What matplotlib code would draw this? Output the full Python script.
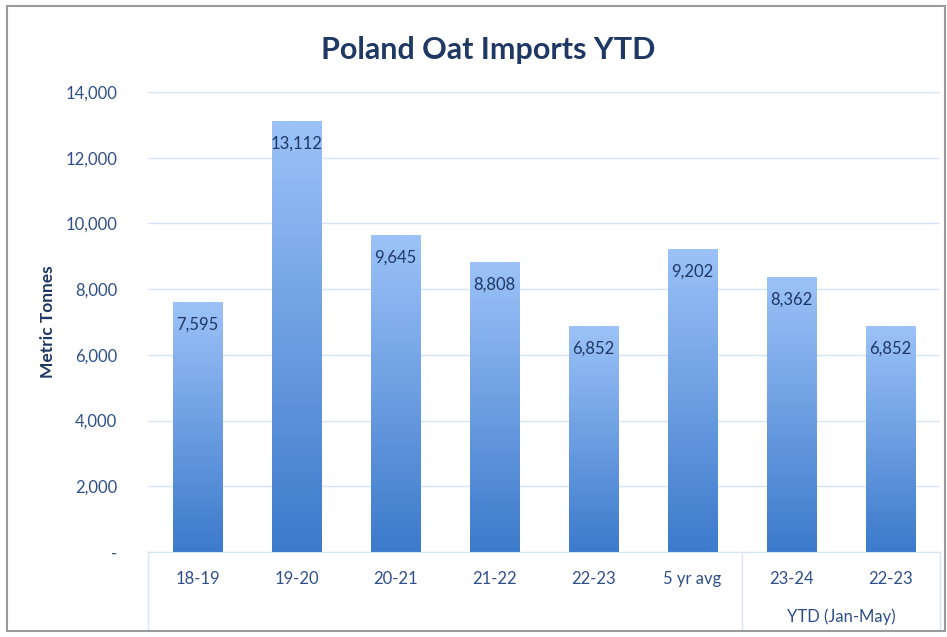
import matplotlib.pyplot as plt
import numpy as np
from matplotlib.colors import LinearSegmentedColormap
from matplotlib.patches import Rectangle
from matplotlib.lines import Line2D

categories = ["18-19", "19-20", "20-21", "21-22", "22-23", "5 yr avg", "23-24", "22-23"]
imports = [7595, 13112, 9645, 8808, 6852, 9202, 8362, 6852]
group_label = "YTD (Jan-May)"
y_ticks = [0, 2000, 4000, 6000, 8000, 10000, 12000, 14000]

plt.rcParams['font.family'] = ['Lato', 'DejaVu Sans']

dark = "#1F3864"
tick_col = "#2F4F8A"
grad = LinearSegmentedColormap.from_list("bargrad", ["#3C7ACB", "#9CC2F8"])

fig = plt.figure(figsize=(9.47, 6.37), dpi=100)
ax = fig.add_axes([148/947, 1-552/637, (940-148)/947, (552-92)/637])

# outer chart frame
fig.patches.append(Rectangle((7/947, 6/637), 938/947, 625/637, transform=fig.transFigure,
                             fill=False, edgecolor="#9A9A9A", linewidth=1.5))

x = np.arange(len(categories))
w = 0.5
g = np.linspace(0, 1, 256).reshape(-1, 1)
for xi, v in zip(x, imports):
    ax.imshow(g, extent=[xi - w/2, xi + w/2, 0, v], origin="lower", aspect="auto",
              cmap=grad, vmin=0, vmax=1, zorder=2)
    ax.annotate(f"{v:,}", (xi, v), xytext=(0, -16), textcoords="offset points",
                ha="center", va="center", fontsize=12, color=dark, zorder=3)

ax.set_xlim(-0.5, len(categories) - 0.5)
ax.set_ylim(0, 14000)
ax.set_yticks(y_ticks)
ax.set_yticklabels(["-" if t == 0 else f"{t:,}" for t in y_ticks])
ax.yaxis.grid(True, color="#D6E4F7", linewidth=1)
ax.set_axisbelow(True)
for s in ["top", "right", "left"]:
    ax.spines[s].set_visible(False)
ax.spines["bottom"].set_color("#D6E4F7")
ax.tick_params(axis="y", length=0, pad=22, labelsize=12, labelcolor=tick_col)
ax.set_xticks(x)
ax.set_xticklabels(categories)
ax.tick_params(axis="x", length=0, pad=14, labelsize=12, labelcolor=tick_col)

# second level category labels and dividers
for xd in [-0.5, 5.5, 7.5]:
    ax.add_line(Line2D([xd, xd], [0, -0.17], transform=ax.get_xaxis_transform(),
                       color="#D6E4F7", linewidth=1, clip_on=False))
ax.text(6.5, -0.14, group_label, transform=ax.get_xaxis_transform(),
        ha="center", va="center", fontsize=12, color=tick_col)

ax.set_ylabel("Metric Tonnes", fontsize=12.5, fontweight="bold", color=dark, labelpad=7)
fig.text(488/947, 1-50/637, "Poland Oat Imports YTD", ha="center", va="center",
         fontsize=22, fontweight="bold", color=dark)

fig.savefig("out.png", dpi=100)
